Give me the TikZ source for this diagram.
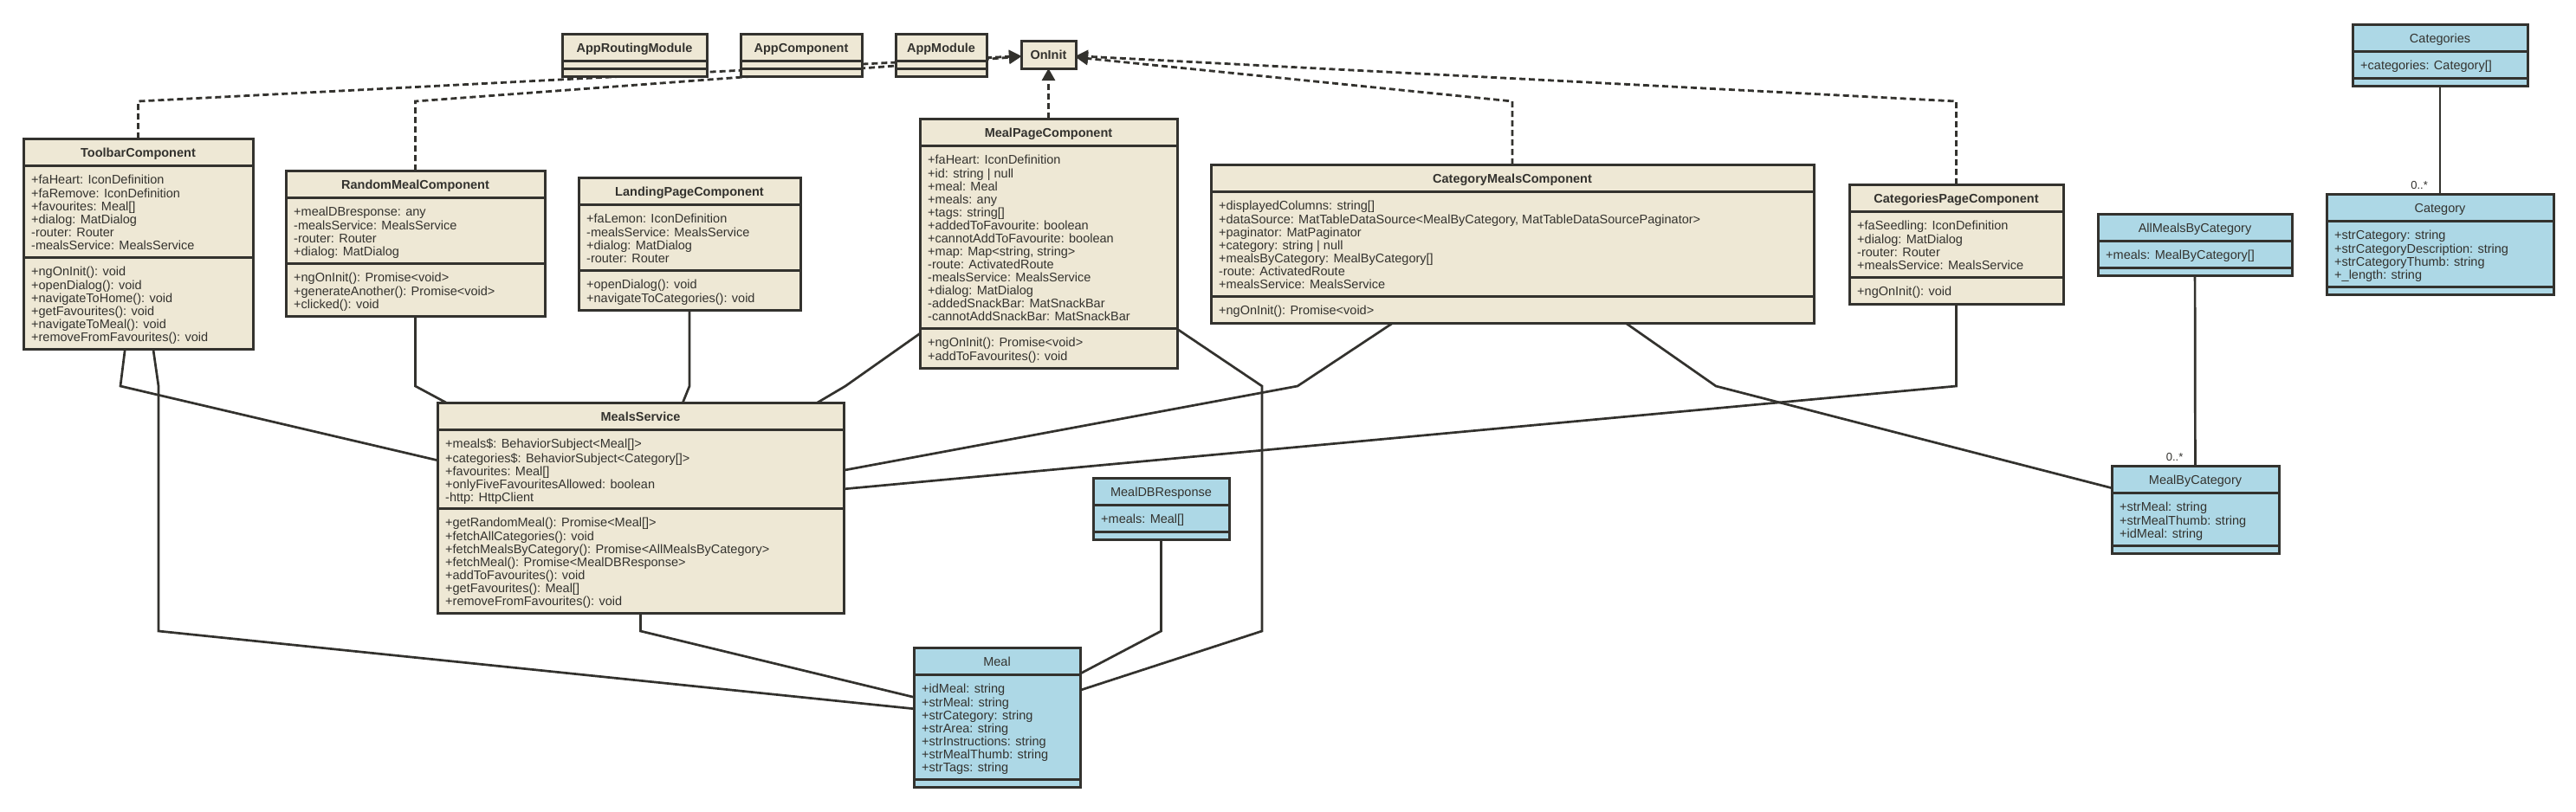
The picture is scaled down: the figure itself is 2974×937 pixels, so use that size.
\documentclass[tikz,border=0pt]{standalone}
\usepackage{fontspec}
\setmainfont{Liberation Sans}
\usepackage{tikz}
\usetikzlibrary{calc, positioning, arrows.meta}
\definecolor{umlink}{HTML}{33322E}
\definecolor{umlbeige}{HTML}{EEE8D5}
\definecolor{umlblue}{HTML}{ADD8E6}
\pgfdeclarelayer{background}
\pgfsetlayers{background,main}
\tikzstyle{component} = [draw=umlink, fill=umlbeige, line width=3pt, inner sep=0pt, outer sep=0pt]
\tikzstyle{model} = [draw=umlink, fill=umlblue, line width=3pt, inner sep=0pt, outer sep=0pt]
\tikzstyle{component title} = [anchor=base, text=umlink, font=\fontsize{14.5pt}{15pt}\selectfont\bfseries]
\tikzstyle{model title} = [anchor=base, text=umlink, font=\fontsize{14.5pt}{15pt}\selectfont]
\tikzstyle{members} = [anchor=north west, align=left, inner sep=0pt, text=umlink, font=\fontsize{14.5pt}{15pt}\selectfont]
\tikzstyle{mult} = [anchor=base east, inner sep=0pt, text=umlink, font=\fontsize{13pt}{15pt}\selectfont]
\tikzstyle{sepline} = [draw=umlink, line width=3pt]
\tikzstyle{assoc} = [draw=umlink, line width=2.7pt]
\tikzstyle{implements} = [draw=umlink, line width=2.8pt, dash pattern=on 7pt off 4pt, -{Triangle[length=14pt,width=15pt]}]

% style, name, top left corner, width, attribute lines, method lines, title, attributes, methods
\newcommand{\umlclass}[9]{%
  \pgfmathsetmacro{\attrh}{ifthenelse(#5==0,9,15*#5+16)}%
  \pgfmathsetmacro{\methh}{ifthenelse(#6==0,9,15*#6+16)}%
  \pgfmathsetmacro{\boxh}{31+\attrh+\methh}%
  \node[#1, anchor=north west, minimum width=#4pt, minimum height=\boxh pt] (#2) at (#3) {};
  \draw[sepline] ([yshift=-31pt]#2.north west) -- ([yshift=-31pt]#2.north east);
  \draw[sepline] ([yshift=-31pt-\attrh pt]#2.north west) -- ([yshift=-31pt-\attrh pt]#2.north east);
  \node[#1 title] at ([yshift=-21.5pt]#2.north) {#7};
  \node[members] at ([xshift=9pt,yshift=-42pt]#2.north west) {\strut#8};
  \node[members] at ([xshift=9pt,yshift=-42pt-\attrh pt]#2.north west) {\strut#9};
}

\begin{document}
\begin{tikzpicture}[x=1pt, y=-1pt]
\useasboundingbox (0,0) rectangle (2974,937);

\umlclass{component}{approuting}{649,39}{167}{0}{0}{AppRoutingModule}{}{}
\umlclass{component}{appcomponent}{855,39}{140}{0}{0}{AppComponent}{}{}
\umlclass{component}{appmodule}{1034,39}{105}{0}{0}{AppModule}{}{}
\node[component, component title, anchor=center, minimum width=63pt, minimum height=32pt] (oninit) at (1210.5,63) {OnInit};

\umlclass{component}{toolbar}{27,160}{265}{6}{6}{ToolbarComponent}
  {+faHeart: IconDefinition\\+faRemove: IconDefinition\\+favourites: Meal[]\\+dialog: MatDialog\\-router: Router\\-mealsService: MealsService}
  {+ngOnInit(): void\\+openDialog(): void\\+navigateToHome(): void\\+getFavourites(): void\\+navigateToMeal(): void\\+removeFromFavourites(): void}
\umlclass{component}{randommeal}{330,197}{299}{4}{3}{RandomMealComponent}
  {+mealDBresponse: any\\-mealsService: MealsService\\-router: Router\\+dialog: MatDialog}
  {+ngOnInit(): Promise<void>\\+generateAnother(): Promise<void>\\+clicked(): void}
\umlclass{component}{landingpage}{668,205}{256}{4}{2}{LandingPageComponent}
  {+faLemon: IconDefinition\\-mealsService: MealsService\\+dialog: MatDialog\\-router: Router}
  {+openDialog(): void\\+navigateToCategories(): void}
\umlclass{component}{mealpage}{1062,137}{297}{13}{2}{MealPageComponent}
  {+faHeart: IconDefinition\\+id: string | null\\+meal: Meal\\+meals: any\\+tags: string[]\\+addedToFavourite: boolean\\+cannotAddToFavourite: boolean\\+map: Map<string, string>\\-route: ActivatedRoute\\-mealsService: MealsService\\+dialog: MatDialog\\-addedSnackBar: MatSnackBar\\-cannotAddSnackBar: MatSnackBar}
  {+ngOnInit(): Promise<void>\\+addToFavourites(): void}
\umlclass{component}{categorymeals}{1398,190}{696}{7}{1}{CategoryMealsComponent}
  {+displayedColumns: string[]\\+dataSource: MatTableDataSource<MealByCategory, MatTableDataSourcePaginator>\\+paginator: MatPaginator\\+category: string | null\\+mealsByCategory: MealByCategory[]\\-route: ActivatedRoute\\+mealsService: MealsService}
  {+ngOnInit(): Promise<void>}
\umlclass{component}{categoriespage}{2135,213}{247}{4}{1}{CategoriesPageComponent}
  {+faSeedling: IconDefinition\\+dialog: MatDialog\\-router: Router\\+mealsService: MealsService}
  {+ngOnInit(): void}
\umlclass{component}{mealsservice}{505,465}{469}{5}{7}{MealsService}
  {+meals\$: BehaviorSubject<Meal[]>\\+categories\$: BehaviorSubject<Category[]>\\+favourites: Meal[]\\+onlyFiveFavouritesAllowed: boolean\\-http: HttpClient}
  {+getRandomMeal(): Promise<Meal[]>\\+fetchAllCategories(): void\\+fetchMealsByCategory(): Promise<AllMealsByCategory>\\+fetchMeal(): Promise<MealDBResponse>\\+addToFavourites(): void\\+getFavourites(): Meal[]\\+removeFromFavourites(): void}

\umlclass{model}{categories}{2716,28}{202}{1}{0}{Categories}
  {+categories: Category[]}{}
\umlclass{model}{category}{2686,224}{262}{4}{0}{Category}
  {+strCategory: string\\+strCategoryDescription: string\\+strCategoryThumb: string\\+\_length: string}{}
\umlclass{model}{allmeals}{2422,247}{224}{1}{0}{AllMealsByCategory}
  {+meals: MealByCategory[]}{}
\umlclass{model}{mealbycategory}{2438,538}{193}{3}{0}{MealByCategory}
  {+strMeal: string\\+strMealThumb: string\\+idMeal: string}{}
\umlclass{model}{mealdbresponse}{1262,552}{157}{1}{0}{MealDBResponse}
  {+meals: Meal[]}{}
\umlclass{model}{meal}{1055,748}{192}{7}{0}{Meal}
  {+idMeal: string\\+strMeal: string\\+strCategory: string\\+strArea: string\\+strInstructions: string\\+strMealThumb: string\\+strTags: string}{}

\node[mult] at ([xshift=-14pt,yshift=6pt]category.north) {0..*};
\node[mult] at ([xshift=-14pt,yshift=6pt]mealbycategory.north) {0..*};

\coordinate (top) at (0,117);
\coordinate (mid) at (0,446);
\coordinate (low) at (0,729);

\begin{pgfonlayer}{background}
  \fill[white] (0,0) rectangle (2974,937);
  % implements OnInit
  \draw[implements] (toolbar) -- (toolbar |- top) -- (oninit);
  \draw[implements] (randommeal) -- (randommeal |- top) -- (oninit);
  \draw[implements] (categorymeals) -- (categorymeals |- top) -- (oninit);
  \draw[implements] (categoriespage) -- (categoriespage |- top) -- (oninit);
  \draw[implements] (mealpage) -- (oninit);
  % associations
  \draw[assoc] (toolbar) -- (139,446) -- (mealsservice);
  \draw[assoc] (toolbar) -- (183,446) -- (183,729) -- (meal);
  \draw[assoc] (randommeal) -- (randommeal |- mid) -- (mealsservice);
  \draw[assoc] (landingpage) -- (landingpage |- mid) -- (mealsservice);
  \draw[assoc] (mealpage) -- (976,446) -- (mealsservice);
  \draw[assoc] (mealpage) -- (1457,446) -- (1457,729) -- (meal);
  \draw[assoc] (categorymeals) -- (1498,446) -- (mealsservice);
  \draw[assoc] (categorymeals) -- (1981,446) -- (mealbycategory);
  \draw[assoc] (categoriespage) -- (categoriespage |- mid) -- (mealsservice);
  \draw[assoc] (mealsservice) -- (mealsservice |- low) -- (meal);
  \draw[assoc] (mealdbresponse) -- (mealdbresponse |- low) -- (meal);
  \draw[assoc] (allmeals) -- (mealbycategory);
  \draw[assoc] (categories) -- (category);
\end{pgfonlayer}
\end{tikzpicture}
\end{document}
